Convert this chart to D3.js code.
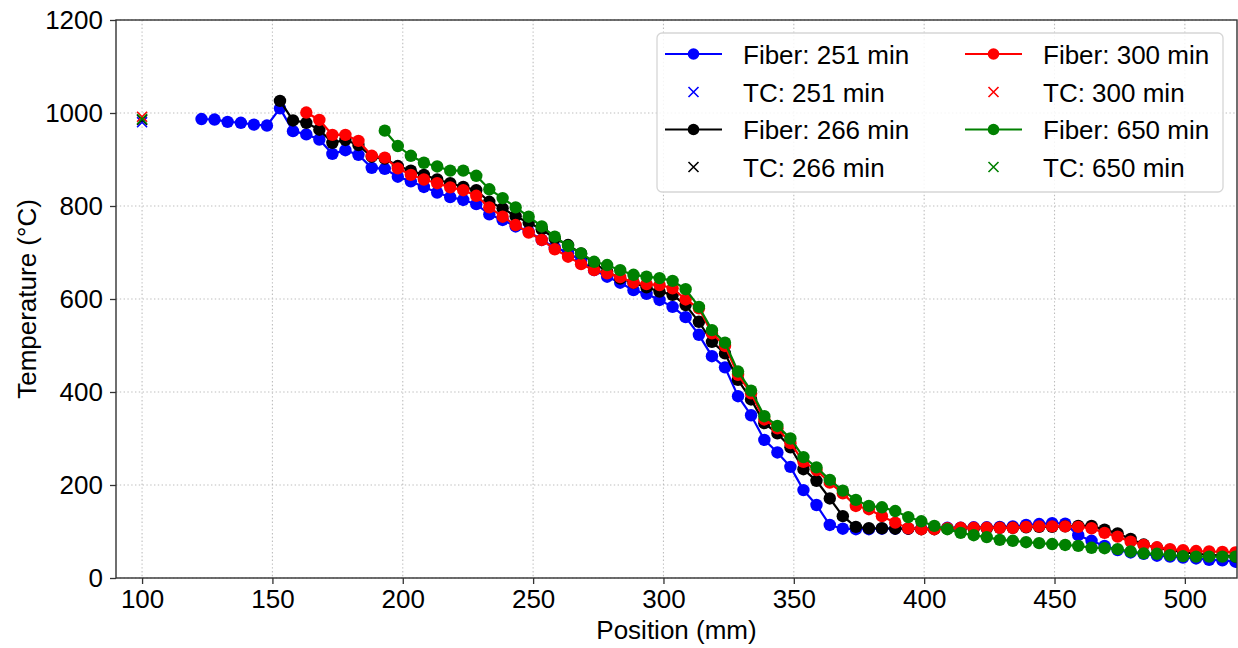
<!DOCTYPE html>
<html>
<head>
<meta charset="utf-8">
<script src="https://cdn.jsdelivr.net/npm/d3@7"></script>
<style>
  body { margin: 0; background: #fff; }
  svg { font-family: "Liberation Sans", Arial, sans-serif; }
</style>
</head>
<body>
<div id="chart"></div>
<script>
// fiber sensor positions (mm), shared by all runs
const positions = [
  122.8, 127.8, 132.8, 137.9, 142.9, 147.9, 152.9, 157.9, 163.0, 168.0,
  173.0, 178.0, 183.0, 188.1, 193.1, 198.1, 203.1, 208.1, 213.2, 218.2,
  223.2, 228.2, 233.2, 238.3, 243.3, 248.3, 253.3, 258.3, 263.4, 268.4,
  273.4, 278.4, 283.4, 288.5, 293.5, 298.5, 303.5, 308.5, 313.6, 318.6,
  323.6, 328.6, 333.6, 338.7, 343.7, 348.7, 353.7, 358.7, 363.8, 368.8,
  373.8, 378.8, 383.8, 388.9, 393.9, 398.9, 403.9, 408.9, 414.0, 419.0,
  424.0, 429.0, 434.0, 439.1, 444.1, 449.1, 454.1, 459.1, 464.2, 469.2,
  474.2, 479.2, 484.2, 489.3, 494.3, 499.3, 504.3, 509.3, 514.4, 519.4
];

// temperatures (°C); each list starts at the given index of positions
const fiber251 = [987, 986, 981, 979, 975, 973, 1010, 961, 954, 943, 912, 920, 910, 882, 880, 863, 853, 841, 829, 819,
  813, 804, 782, 770, 756, 745, 727, 711, 700, 682, 662, 648, 635, 619, 611, 598, 583, 561, 523, 477,
  453, 391, 350, 297, 270, 239, 189, 157, 114, 106, 105, 105, 106, 106, 106, 106, 107, 108, 108, 109,
  109, 110, 111, 114, 116, 118, 117, 92, 80, 69, 60, 55, 52, 48, 46, 44, 42, 39, 38, 35];
const fiber266 = [1026, 984, 979, 964, 936, 942, 931, 906, 902, 886, 876, 867, 857, 849, 841, 834, 809, 795, 778, 764,
  750, 730, 716, 698, 677, 659, 644, 635, 625, 616, 609, 587, 551, 508, 483, 426, 384, 333, 311, 281,
  234, 209, 171, 133, 110, 107, 107, 106, 106, 105, 105, 106, 107, 107, 107, 108, 108, 109, 110, 110,
  111, 112, 112, 104, 96, 84, 72, 65, 60, 56, 52, 50, 48, 46];
const fiber300 = [1001, 985, 953, 953, 940, 908, 904, 881, 867, 857, 849, 840, 834, 822, 797, 777, 759, 743, 727, 707,
  691, 675, 662, 655, 647, 635, 632, 630, 623, 599, 580, 526, 499, 437, 397, 341, 322, 290, 250, 232,
  205, 182, 155, 148, 133, 119, 107, 105, 105, 107, 108, 108, 108, 108, 108, 110, 111, 111, 111, 110,
  107, 97, 89, 78, 71, 66, 62, 60, 58, 57, 56, 55];
const fiber650 = [962, 929, 908, 893, 885, 876, 876, 865, 836, 817, 797, 777, 756, 734, 714, 698, 680, 673, 662, 652,
  648, 645, 639, 621, 583, 533, 506, 444, 403, 348, 327, 300, 260, 238, 211, 188, 168, 155, 152, 144,
  131, 122, 112, 105, 97, 92, 88, 82, 80, 77, 75, 73, 71, 69, 65, 64, 62, 57, 53, 52,
  49, 47, 46, 46, 46, 46];

// thermocouple readings at 100 mm
const tcPosition = 100;
const tc = [980, 985, 992, 987];

const runs = ["251", "266", "300", "650"];
const startIndex = [0, 6, 8, 14];
const fiberValues = [fiber251, fiber266, fiber300, fiber650];
const colors = ["#0000ff", "#000000", "#ff0000", "#008000"];

const xTicks = [100, 150, 200, 250, 300, 350, 400, 450, 500];
const yTicks = [0, 200, 400, 600, 800, 1000, 1200];

const width = 1238, height = 648;
const margin = { top: 20, right: 1, bottom: 70, left: 116 };
const fontSize = "26px";

const svg = d3.select("#chart").append("svg")
  .attr("width", width)
  .attr("height", height);

const x = d3.scaleLinear().domain([90, 520]).range([margin.left, width - margin.right]);
const y = d3.scaleLinear().domain([0, 1200]).range([height - margin.bottom, margin.top]);

svg.append("defs").append("clipPath").attr("id", "plotclip")
  .append("rect")
  .attr("x", margin.left).attr("y", margin.top)
  .attr("width", width - margin.right - margin.left)
  .attr("height", height - margin.bottom - margin.top);

// grid
const grid = svg.append("g");
grid.selectAll("line.vx").data(xTicks).enter().append("line")
  .attr("x1", d => x(d)).attr("x2", d => x(d))
  .attr("y1", margin.top).attr("y2", height - margin.bottom)
  .attr("stroke", "#bdbdbd").attr("stroke-width", 1.1).attr("stroke-dasharray", "1.4,2.4");
grid.selectAll("line.hy").data(yTicks).enter().append("line")
  .attr("x1", margin.left).attr("x2", width - margin.right)
  .attr("y1", d => y(d)).attr("y2", d => y(d))
  .attr("stroke", "#bdbdbd").attr("stroke-width", 1.1).attr("stroke-dasharray", "1.4,2.4");

// data
const plot = svg.append("g").attr("clip-path", "url(#plotclip)");
const line = d3.line().x(d => x(d[0])).y(d => y(d[1]));

function xMark(g, cx, cy, s, color) {
  g.append("path")
    .attr("d", `M${cx - s},${cy - s}L${cx + s},${cy + s}M${cx - s},${cy + s}L${cx + s},${cy - s}`)
    .attr("stroke", color).attr("stroke-width", 1.6).attr("fill", "none");
}

runs.forEach((r, i) => {
  const pts = fiberValues[i].map((v, j) => [positions[startIndex[i] + j], v]);
  const g = plot.append("g");
  g.append("path").datum(pts)
    .attr("d", line)
    .attr("fill", "none")
    .attr("stroke", colors[i])
    .attr("stroke-width", 2.2);
  g.selectAll("circle").data(pts).enter().append("circle")
    .attr("cx", d => x(d[0])).attr("cy", d => y(d[1]))
    .attr("r", 6.2)
    .attr("fill", colors[i]);
  xMark(g, x(tcPosition), y(tc[i]), 5, colors[i]);
});

// axes
const xAxis = d3.axisBottom(x).tickValues(xTicks).tickSize(6).tickPadding(6).tickFormat(d3.format("d"));
const yAxis = d3.axisLeft(y).tickValues(yTicks).tickSize(6).tickPadding(7).tickFormat(d3.format("d"));

const gx = svg.append("g")
  .attr("transform", `translate(0,${height - margin.bottom})`)
  .call(xAxis);
const gy = svg.append("g")
  .attr("transform", `translate(${margin.left},0)`)
  .call(yAxis);

[gx, gy].forEach(g => {
  g.select(".domain").remove();
  g.selectAll(".tick line").attr("stroke", "#333").attr("stroke-width", 1.3);
  g.selectAll(".tick text")
    .attr("fill", "#000")
    .style("font-size", fontSize)
    .style("font-family", "'Liberation Sans', Arial, sans-serif");
});

// frame
svg.append("rect")
  .attr("x", margin.left).attr("y", margin.top)
  .attr("width", width - margin.right - margin.left)
  .attr("height", height - margin.bottom - margin.top)
  .attr("fill", "none").attr("stroke", "#333").attr("stroke-width", 1.4);

// axis labels
svg.append("text")
  .attr("x", (margin.left + width - margin.right) / 2)
  .attr("y", 639)
  .attr("text-anchor", "middle")
  .style("font-size", fontSize)
  .text("Position (mm)");

svg.append("text")
  .attr("transform", `translate(36,${(margin.top + height - margin.bottom) / 2}) rotate(-90)`)
  .attr("text-anchor", "middle")
  .style("font-size", fontSize)
  .text("Temperature (°C)");

// legend
const legend = svg.append("g");
legend.append("rect")
  .attr("x", 657).attr("y", 33)
  .attr("width", 566).attr("height", 159)
  .attr("rx", 5)
  .attr("fill", "#fff").attr("fill-opacity", 0.85)
  .attr("stroke", "#d6d6d6").attr("stroke-width", 1.3);

const colX = [665, 965];
const rowY = [54, 92, 129.5, 167];
runs.forEach((r, i) => {
  const col = Math.floor(i / 2);
  const row0 = (i % 2) * 2;
  const lx = colX[col];
  // fiber entry
  legend.append("line")
    .attr("x1", lx).attr("x2", lx + 57)
    .attr("y1", rowY[row0]).attr("y2", rowY[row0])
    .attr("stroke", colors[i]).attr("stroke-width", 2.2);
  legend.append("circle")
    .attr("cx", lx + 28.5).attr("cy", rowY[row0]).attr("r", 5.8)
    .attr("fill", colors[i]);
  legend.append("text")
    .attr("x", lx + 78).attr("y", rowY[row0] + 9.5)
    .style("font-size", fontSize)
    .text(`Fiber: ${r} min`);
  // thermocouple entry
  xMark(legend, lx + 28.5, rowY[row0 + 1], 5, colors[i]);
  legend.append("text")
    .attr("x", lx + 78).attr("y", rowY[row0 + 1] + 9.5)
    .style("font-size", fontSize)
    .text(`TC: ${r} min`);
});
</script>
</body>
</html>
